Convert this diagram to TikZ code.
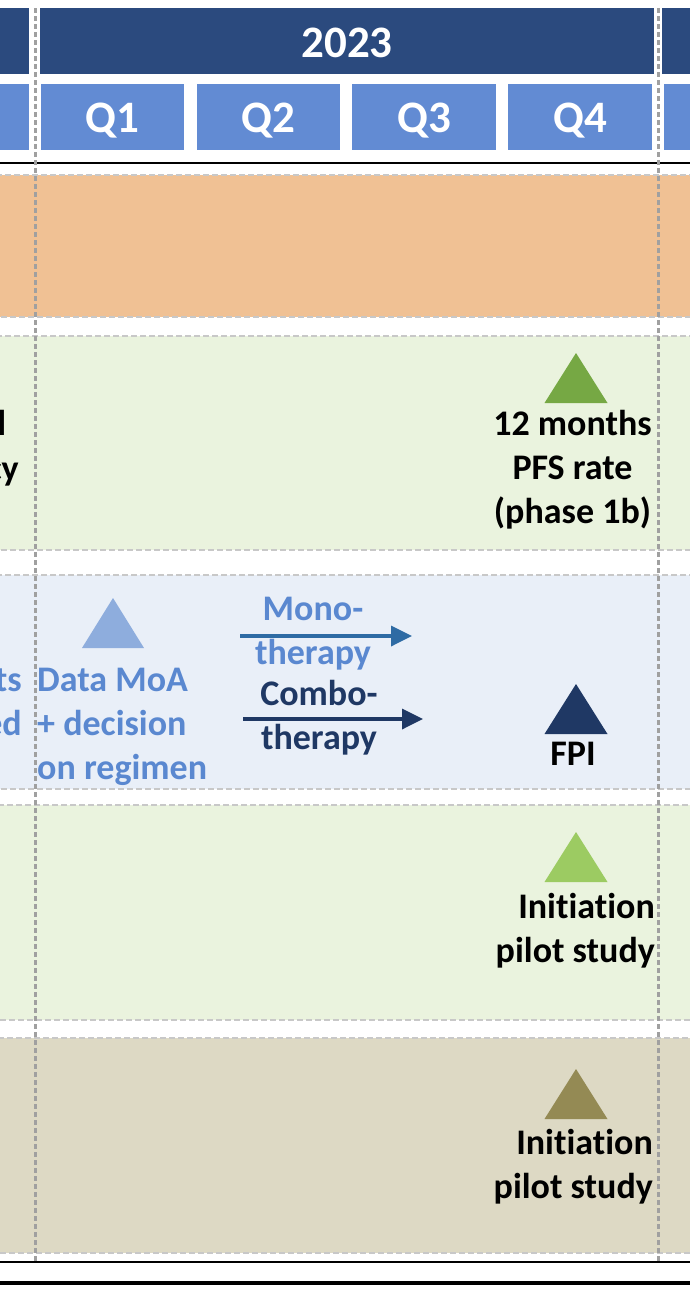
\documentclass[tikz,border=0pt]{standalone}
\usepackage{fontspec}
\setmainfont[Ligatures=CommonOff]{Carlito}
\usetikzlibrary{arrows.meta}
\definecolor{yearblue}{HTML}{2B4A7E}
\definecolor{qblue}{HTML}{628BD3}
\definecolor{bandorange}{HTML}{F0C194}
\definecolor{bandgreen}{HTML}{EAF3DE}
\definecolor{bandblue}{HTML}{E9EFF8}
\definecolor{bandtan}{HTML}{DDD9C4}
\definecolor{bandline}{HTML}{C8C8C8}
\definecolor{vline}{HTML}{A0A0A0}
\definecolor{txtblue}{HTML}{5A88D0}
\definecolor{navy}{HTML}{1F3864}
\definecolor{steel}{HTML}{2E6BA4}
\definecolor{trigreen}{HTML}{76A844}
\definecolor{trilightgreen}{HTML}{9CCB62}
\definecolor{trilightblue}{HTML}{8EADDD}
\definecolor{triolive}{HTML}{948A54}
\begin{document}
\begin{tikzpicture}[x=1pt,y=-1pt,
  yearbox/.style={fill=yearblue},
  qbox/.style={fill=qblue},
  band/.style={draw=bandline,line width=1.5pt,dash pattern=on 6pt off 3pt},
  vdash/.style={draw=vline,line width=3pt,dash pattern=on 5pt off 3pt},
  hdrtxt/.style={text=white,font=\fontsize{45}{54}\selectfont\bfseries,inner sep=0pt,anchor=base},
  bodytxt/.style={font=\fontsize{36}{44}\selectfont\bfseries,inner sep=0pt},
  rule/.style={draw=black},
  monoarrow/.style={draw=steel,line width=3.5pt,-{Triangle[length=21pt,width=20pt]}},
  comboarrow/.style={draw=navy,line width=3.5pt,-{Triangle[length=21pt,width=20pt]}}
]
\useasboundingbox (0,0) rectangle (690,1312);
\clip (0,0) rectangle (690,1312);
\fill[white] (0,0) rectangle (690,1312);
% header year bar
\path[yearbox] (-10,8) rectangle (29,74);
\path[yearbox] (40,8) rectangle (654,74);
\path[yearbox] (662,8) rectangle (700,74);
\node[hdrtxt] (y2023) at (347,57) {2023};
% quarter bar
\path[qbox] (-10,84) rectangle (29,150);
\path[qbox] (41,84) rectangle (184,150);
\path[qbox] (197,84) rectangle (340,150);
\path[qbox] (352,84) rectangle (496,150);
\path[qbox] (508,84) rectangle (652,150);
\path[qbox] (664,84) rectangle (700,150);
\node[hdrtxt] (q1) at (112.5,132) {Q1};
\node[hdrtxt] (q2) at (268.5,132) {Q2};
\node[hdrtxt] (q3) at (424,132) {Q3};
\node[hdrtxt] (q4) at (580,132) {Q4};
\draw[rule,line width=2.7pt] (-10,163) -- (700,163);
% bands
\path[band,fill=bandorange] (-10,175) rectangle (700,317);
\path[band,fill=bandgreen] (-10,336) rectangle (700,550);
\path[band,fill=bandblue] (-10,575) rectangle (700,789);
\path[band,fill=bandgreen] (-10,805) rectangle (700,1020);
\path[band,fill=bandtan] (-10,1038) rectangle (700,1253);
% row 2
\fill[trigreen] (576,353) -- (607.5,403) -- (544.5,403) -- cycle;
\node[bodytxt,align=center,anchor=base] (pfs) at (572.5,523) {12 months\\PFS rate\\(phase 1b)};
\node[bodytxt,anchor=base east] (cutl) at (6.5,435) {l};
\node[bodytxt,anchor=base east] (cutcy) at (19,480) {cy};
% row 3
\fill[trilightblue] (113,598) -- (144,648) -- (82,648) -- cycle;
\node[bodytxt,text=txtblue,align=left,anchor=base west] (moa) at (37,779) {Data MoA\\+ decision\\on regimen};
\node[bodytxt,text=txtblue,align=right,anchor=base east] (cutts) at (22,735) {ts\\ed};
\node[bodytxt,text=txtblue,align=center,anchor=base] (mono) at (313,664) {Mono-\\therapy};
\node[bodytxt,text=navy,align=center,anchor=base] (combo) at (319,749) {Combo-\\therapy};
\coordinate (monoS) at (240,636);
\coordinate (monoE) at (412,636);
\coordinate (comboS) at (243,719);
\coordinate (comboE) at (423,719);
\draw[monoarrow] (monoS) -- (monoE);
\draw[comboarrow] (comboS) -- (comboE);
\fill[navy] (576,684) -- (607.5,734) -- (544.5,734) -- cycle;
\node[bodytxt,anchor=base] (fpi) at (573,765) {FPI};
% row 4
\fill[trilightgreen] (576,832) -- (607.5,882) -- (544.5,882) -- cycle;
\node[bodytxt,align=right,anchor=base east] (init1) at (655,962) {Initiation\\pilot study};
% row 5
\fill[triolive] (576,1069) -- (607.5,1119) -- (544.5,1119) -- cycle;
\node[bodytxt,align=right,anchor=base east] (init2) at (653,1198) {Initiation\\pilot study};
% bottom rules
\draw[rule,line width=2.3pt] (-10,1262) -- (700,1262);
\draw[rule,line width=3.5pt] (-10,1283) -- (700,1283);
% vertical dashed
\draw[vdash] (35,8) -- (35,1262);
\draw[vdash] (658,8) -- (658,1262);
\end{tikzpicture}
\end{document}
